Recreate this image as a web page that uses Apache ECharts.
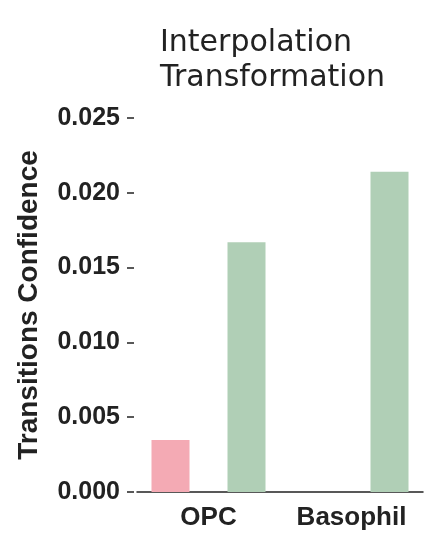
<!DOCTYPE html>
<html>
<head>
<meta charset="utf-8">
<script src="https://cdn.jsdelivr.net/npm/echarts@6/dist/echarts.min.js"></script>
<style>
  html, body { margin: 0; padding: 0; background: #fff; }
  #chart { width: 436px; height: 560px; }
</style>
</head>
<body>
<div id="chart"></div>
<script>
var categories = ['OPC', 'Basophil'];
var pinkValues = [0.00348, 0];
var middleValues = [null, null];
var greenValues = [0.01669, 0.02141];

var chart = echarts.init(document.getElementById('chart'));

var option = {
    backgroundColor: '#fff',
    animation: false,
    title: {
        text: 'Interpolation\nTransformation',
        left: 155,
        top: 21,
        textStyle: {
            fontFamily: 'DejaVu Sans',
            fontSize: 30,
            fontWeight: 'normal',
            color: '#222',
            lineHeight: 35
        }
    },
    grid: {
        left: 137,
        right: 13,
        top: 118,
        bottom: 68
    },
    xAxis: {
        type: 'category',
        data: categories,
        axisLine: { lineStyle: { color: '#222', width: 1.5 } },
        axisTick: { alignWithLabel: true, length: 6, lineStyle: { color: '#222', width: 1.5 } },
        axisLabel: {
            margin: 13,
            fontFamily: 'Liberation Sans',
            fontSize: 26,
            fontWeight: 'bold',
            color: '#222'
        }
    },
    yAxis: {
        type: 'value',
        min: 0,
        max: 0.025,
        interval: 0.005,
        offset: 3,
        name: 'Transitions Confidence',
        nameLocation: 'middle',
        nameGap: 91,
        nameTextStyle: {
            fontFamily: 'Liberation Sans',
            fontSize: 28,
            fontWeight: 'bold',
            color: '#222'
        },
        axisLine: { show: false },
        axisTick: { show: true, length: 7, lineStyle: { color: '#222', width: 1.5 } },
        splitLine: { show: false },
        axisLabel: {
            margin: 14,
            fontFamily: 'Liberation Sans',
            fontSize: 25,
            fontWeight: 'bold',
            color: '#222',
            formatter: function (v) { return v.toFixed(3); }
        }
    },
    series: [
        {
            type: 'bar',
            data: pinkValues,
            barWidth: 38,
            barGap: '0%',
            itemStyle: { color: '#f4aab4' }
        },
        {
            type: 'bar',
            data: middleValues,
            barWidth: 38,
            barGap: '0%',
            itemStyle: { color: '#b9c8e0' }
        },
        {
            type: 'bar',
            data: greenValues,
            barWidth: 38,
            barGap: '0%',
            itemStyle: { color: '#b0cfb6' }
        }
    ]
};

chart.setOption(option);

window.onresize = chart.resize;
</script>
</body>
</html>
